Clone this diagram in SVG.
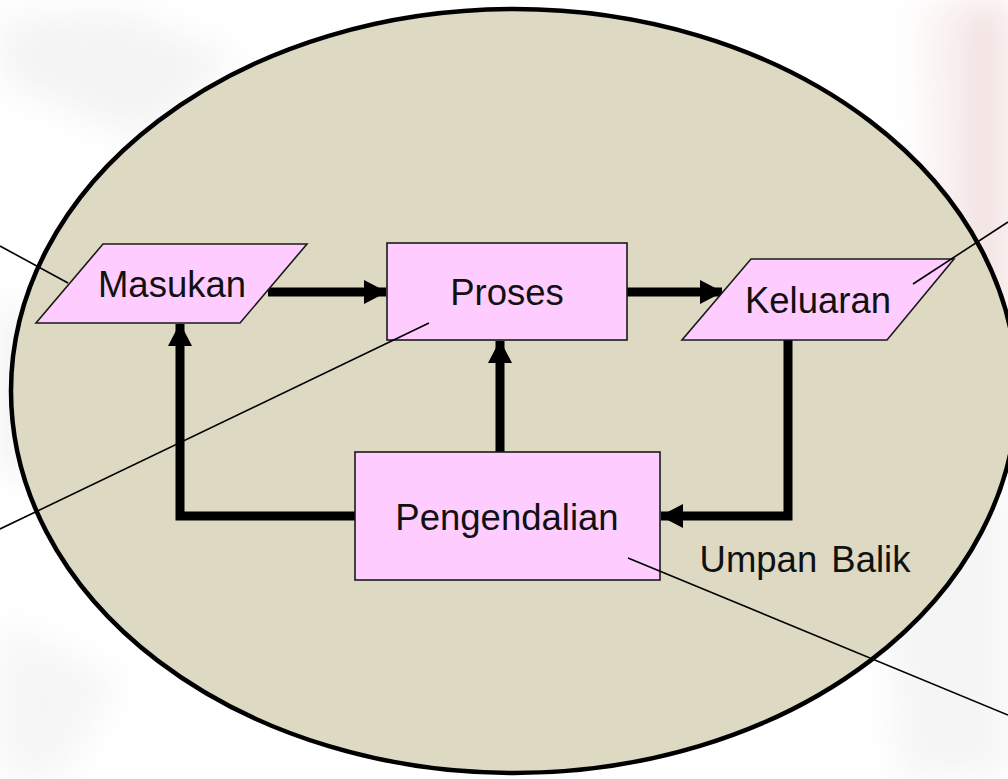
<svg xmlns="http://www.w3.org/2000/svg" width="1008" height="779" viewBox="0 0 1008 779">
<style>
.node{fill:#FFCCFF;stroke:#1a1a1a;stroke-width:1.6}
.lbl{font-family:"Liberation Sans","Noto Sans",Arial,sans-serif;font-size:36.5px;fill:#111;text-anchor:middle}
.flow{fill:none;stroke:#000;stroke-width:9;stroke-linejoin:miter}
.thin{fill:none;stroke:#000;stroke-width:1.6}
</style>
<defs>
<marker id="ah" markerWidth="24" markerHeight="24" viewBox="0 0 24 24" refX="22" refY="12" orient="auto" markerUnits="userSpaceOnUse">
<path d="M0,0 L23,12 L0,24 Z" fill="#000"/>
</marker>
<filter id="blur" x="-20%" y="-20%" width="140%" height="140%"><feGaussianBlur stdDeviation="18"/></filter>
<linearGradient id="pink" x1="0" y1="0" x2="1" y2="0">
<stop offset="0" stop-color="#f4e2e2" stop-opacity="0"/>
<stop offset="1" stop-color="#f0d8d8"/>
</linearGradient>
</defs>
<g id="background">
<rect x="0" y="0" width="1008" height="779" fill="#ffffff"/>
<path d="M0,80 L140,140 L240,60 L120,10 L0,20 Z" fill="#ececec" filter="url(#blur)" opacity="0.6"/>
<path d="M0,300 L120,360 L40,480 L0,470 Z" fill="#ededed" filter="url(#blur)" opacity="0.7"/>
<path d="M900,0 L1008,0 L1008,340 L940,300 Z" fill="url(#pink)" filter="url(#blur)"/>
<path d="M880,560 L1008,480 L1008,779 L900,779 Z" fill="#f1f1f1" filter="url(#blur)" opacity="0.7"/>
<path d="M0,620 L120,680 L60,779 L0,779 Z" fill="#f2f2f2" filter="url(#blur)" opacity="0.7"/>
</g>
<g id="system">
<ellipse cx="514" cy="391" rx="503" ry="382" fill="#DDD9C3" stroke="#000" stroke-width="4.5"/>
</g>
<g id="connectors">
<line class="flow" x1="268" y1="292" x2="386" y2="292" marker-end="url(#ah)"/>
<line class="flow" x1="627" y1="292" x2="722" y2="292" marker-end="url(#ah)"/>
<line class="flow" x1="500" y1="452" x2="500" y2="341" marker-end="url(#ah)"/>
<polyline class="flow" points="355,516 180,516 180,324" marker-end="url(#ah)"/>
<polyline class="flow" points="788,340 788,516 661,516" marker-end="url(#ah)"/>
</g>
<g id="node-masukan">
<polygon class="node" points="103,244 307,244 240,323 36,323"/>
<text class="lbl" x="172" y="297">Masukan</text>
</g>
<g id="node-proses">
<rect class="node" x="387" y="243" width="240" height="97"/>
<text class="lbl" x="507" y="305">Proses</text>
</g>
<g id="node-keluaran">
<polygon class="node" points="751,259 954,259 887,340 682,340"/>
<text class="lbl" x="818" y="313">Keluaran</text>
</g>
<g id="node-pengendalian">
<rect class="node" x="355" y="452" width="305" height="128"/>
<text class="lbl" x="507" y="530">Pengendalian</text>
</g>
<g id="label-umpan-balik">
<text class="lbl" x="805" y="572" word-spacing="4">Umpan Balik</text>
</g>
<g id="callouts">
<line class="thin" x1="0" y1="246" x2="68" y2="283"/>
<line class="thin" x1="429" y1="323" x2="0" y2="529"/>
<line class="thin" x1="913" y1="284" x2="1008" y2="222"/>
<line class="thin" x1="628" y1="558" x2="1008" y2="715"/>
</g>
</svg>
